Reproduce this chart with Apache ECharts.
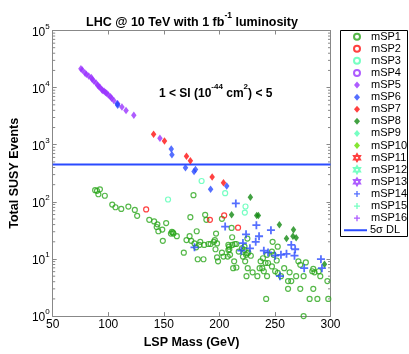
<!DOCTYPE html>
<html><head><meta charset="utf-8">
<script src="https://cdn.jsdelivr.net/npm/echarts@6/dist/echarts.min.js"></script>
<style>html,body{margin:0;padding:0;background:#fff}#c{width:409px;height:354px}</style>
</head><body><div id="c"></div>
<script>
const xTicks = [50, 100, 150, 200, 250, 300];
const yDecades = [1, 10, 100, 1000, 10000, 100000];
const dlLevel = 450;

const mSP1 = [[88.2,160],[89.9,156],[92.5,166],[91.1,136],[96.9,128],[103.6,89.5],[106.5,80.4],[111.7,75.2],[118.1,82.6],[123.9,72.3],[126,56.9],[136.9,48.5],[141.3,45.5],[144.2,40.5],[143.6,36.3],[145.1,30.6],[148.6,32.7],[152.1,42.6],[156.4,27.9],[158.2,29],[149.1,20.8],
[176.7,131],[173.9,54],[187.2,59.2],[188.3,48.5],[202.3,50.5],[211,34.9],[157.3,29.8],[158.7,27.9],[161.7,25.1],[179.6,30.6],[197,27.9],
[173.2,25.1],[170.4,21.4],[174.7,20.8],[177.6,18.7],[179.1,16],[182,17.6],[182.8,20],[186.3,17.6],[190.1,18.3],[192.1,18.3],[195,20],[195.9,21.4],[197.9,18.7],[196.5,14.8],[168,12.9],[180.5,9.9],[185.7,9.9],[197.9,10.7],[198.8,9.1],
[202.3,12.9],[203.7,11],[207.5,11],[209.6,11.8],[208.7,16.4],[208.1,14.4],[215.3,18.3],[217.4,13.5],[220.3,15.4],[222.6,14.4],[224.9,12.6],[221.2,11],[213.3,9.1],[212.4,6.9],[215.3,7.1],[223.2,9.1],[225.5,6.9],[224.4,5],
[211.5,24],[213.9,18.3],[209,14.8],[208.1,17.6],[211.7,17.6],
[225.2,22.8],[222.6,16.4],[226,12.9],[224,11.8],[228.3,11.4],[229.9,5.85],[234.2,5],[236.2,6.9],[238.6,6.9],[237.1,9.1],[239.2,10.3],[242.9,11.8],[241.5,8.5],[243.8,8.5],[240,6.1],[242.9,5],[247.3,13.5],[247.9,20],[248.8,11.8],[252.5,16.4],[251.6,9.4],[247.3,7.4],[250.2,6.1],[252.5,5.7],[258.3,6.9],[255.4,5],[261.8,4.1],[264.7,4.1],[261.8,3.0],[263.2,5.85],[269.1,5],[271.1,9.1],[272.8,7.9],[277.8,8.7],[275.8,5],[272.8,3.0],[284.5,6.7],[285.6,5.85],[283.6,6.1],[284.5,3.0],[289.4,6.1],[290.8,5],[297.2,4.1],[298,2.0],[281.2,2.0],[288.2,2.0],[242.1,2.0],[275.8,1.0]];
const mSP2 = [[134.1,73.8],[191.5,48.5],[204.3,57.8],[216.8,35.3]];
const mSP3 = [[153.8,110],[184,232],[205.2,142],[223.5,83],[222.9,65]];
const mSP4 = [];
const mSP5 = [[75.4,21400],[76.6,20300],[79,18000],[80.3,17100],[82.4,16000],[84.7,15000],[85.5,14000],[87,13000],[89,12000],[90.5,11000],[91.5,10500],[92.5,10100],[94.2,9200],[95,8900],[96.3,8600],[97.5,8200],[98.6,7950],[100.1,7430],[102,6900],[103,6510],[105,5920],[108.5,5200],[112.3,4560],[116,3980],[123,3270],[146.5,1295]];
const mSP6 = [[108,5200],[108.5,4900],[156.7,840],[157.3,670],[169.5,395],[177.2,340],[178.5,370],[192.1,166],[206.6,190]];
const mSP7 = [[140.8,1520],[150.6,1160],[170.4,626],[173.9,525],[193.5,272],[203.7,217]];
const mSP8 = [[211,59.3],[227.9,120],[233.6,57.8],[235.1,57.8],[254,39.8],[266.7,32.6],[260.4,22.8],[266.2,25],[269.1,23.5],[294.6,8.1]];
const mSP9 = [], mSP10 = [], mSP11 = [], mSP12 = [], mSP13 = [];
const mSP14 = [[214.8,94],[205.2,37],[233.3,39],[224,27],[235.7,25],[246.4,32],[221.2,19],[232.7,20],[219.7,14],[227.5,15.4],[240,14],[243.8,13],[250.2,11.4],[255.4,11.8],[260.4,12.3],[264.7,17.6],[268.2,14.8],[267.6,11.4],[276.3,6.9],[254.5,5.0],[291.4,9.9],[292.3,6.9],[177.6,16]];
const mSP15 = [], mSP16 = [];

const FONT = 'Liberation Sans, Arial, Helvetica, sans-serif';
const GREEN = '#2aa61c', RED = '#ff1010', AQUA = '#55ffb4', PURPLE = '#9a33ff', BLUE = '#2a4bff', DKGREEN = '#138a13', LTGREEN = '#66e000';
const HEX = 'path://M0,-1L0.2887,-0.5L0.866,-0.5L0.577,0L0.866,0.5L0.2887,0.5L0,1L-0.2887,0.5L-0.866,0.5L-0.577,0L-0.866,-0.5L-0.2887,-0.5Z';
const PLUS = 'path://M3.5,0h2v3.5h3.5v2h-3.5v3.5h-2v-3.5h-3.5v-2h3.5z';

function openC(name, data, color) {
  return {name, type:'scatter', data, symbol:'circle', symbolSize:5,
    itemStyle:{color:'rgba(255,255,255,0)', borderColor:color, borderWidth:1.2}};
}
function dia(name, data, color) {
  return {name, type:'scatter', data, symbol:'diamond', symbolSize:[5.5,7.5], itemStyle:{color}};
}
function hexS(name, data, color) {
  return {name, type:'scatter', data, symbol:HEX, symbolSize:7,
    itemStyle:{color:'rgba(255,255,255,0)', borderColor:color, borderWidth:1}};
}
function plus(name, data, color) {
  return {name, type:'scatter', data, symbol:PLUS, symbolSize:8, itemStyle:{color}};
}

const minorVals = [];
yDecades.slice(0, -1).forEach(d => { for (let k = 2; k <= 9; k++) minorVals.push([50, d * k]); });

const supFmt = v => '{b|10}{s|' + Math.round(Math.log10(v)) + '}';
const yRich = {b:{fontSize:12, fontFamily:FONT, color:'#000', lineHeight:16, verticalAlign:'bottom'},
               s:{fontSize:8, fontFamily:FONT, color:'#000', verticalAlign:'top'}};

const seriesNames = ['mSP1','mSP2','mSP3','mSP4','mSP5','mSP6','mSP7','mSP8','mSP9','mSP10','mSP11','mSP12','mSP13','mSP14','mSP15','mSP16'];
const dlName = '5σ DL';

const legendText = {fontSize:11, fontFamily:FONT, color:'#000', lineHeight:12.1};

const chart = echarts.init(document.getElementById('c'), null, {renderer:'canvas'});
chart.setOption({
  animation:false,
  backgroundColor:'#fff',
  title:{
    text:'{t|LHC @ 10 TeV with 1 fb}{s|-1}{t| luminosity}',
    left:187, top:6, textAlign:'center',
    textStyle:{rich:{t:{fontSize:12.5, fontWeight:'bold', fontFamily:FONT, color:'#000', lineHeight:18, verticalAlign:'bottom'},
                     s:{fontSize:8.5, fontWeight:'bold', fontFamily:FONT, color:'#000', verticalAlign:'top'}}}
  },
  graphic:[{
    type:'text', left:159, top:83,
    style:{text:'{t|1 < SI (10}{s|-44}{t| cm}{s|2}{t|) < 5}',
      rich:{t:{fontSize:12, fontWeight:'bold', fontFamily:FONT, fill:'#000', lineHeight:17, verticalAlign:'bottom'},
            s:{fontSize:8, fontWeight:'bold', fontFamily:FONT, fill:'#000', verticalAlign:'top'}}}
  },{
    type:'rect', left:340, top:30, z:0,
    shape:{x:0, y:0, width:67, height:206},
    style:{fill:'#fff', stroke:'#000', lineWidth:1}
  }],
  legend:[{
    data:seriesNames, orient:'vertical', left:353, top:30.6,
    padding:0, itemWidth:6, itemHeight:7, itemGap:0,
    textStyle:Object.assign({}, legendText, {padding:[0,0,0,6]}), z:10
  },{
    data:[{name:dlName, icon:'rect'}], orient:'vertical', left:344, top:224.2,
    padding:0, itemWidth:23, itemHeight:2, itemGap:0,
    textStyle:Object.assign({}, legendText, {padding:[0,0,0,-2]}), z:10
  }],
  grid:{left:43.5, right:78.5, top:30.5, bottom:33.5, containLabel:false},
  xAxis:[{
    type:'value', min:50, max:300, interval:50, position:'bottom',
    name:'LSP Mass (GeV)', nameLocation:'middle', nameGap:17,
    nameTextStyle:{fontSize:12.5, fontWeight:'bold', fontFamily:FONT, color:'#000'},
    axisLine:{show:true, lineStyle:{color:'#888', width:1}},
    axisTick:{show:true, inside:true, length:4, lineStyle:{color:'#888'}},
    axisLabel:{fontSize:12, fontFamily:FONT, color:'#000', margin:3},
    splitLine:{show:false}
  },{
    type:'value', min:50, max:300, interval:50, position:'top',
    axisLine:{show:true, lineStyle:{color:'#888', width:1}},
    axisTick:{show:true, inside:true, length:4, lineStyle:{color:'#888'}},
    axisLabel:{show:false}, splitLine:{show:false}
  }],
  yAxis:[{
    type:'log', logBase:10, min:1, max:100000, position:'left',
    name:'Total SUSY Events', nameLocation:'middle', nameGap:23,
    nameTextStyle:{fontSize:12.5, fontWeight:'bold', fontFamily:FONT, color:'#000'},
    axisLine:{show:true, lineStyle:{color:'#888', width:1}},
    axisTick:{show:true, inside:true, length:4, lineStyle:{color:'#888'}},
    axisLabel:{formatter:supFmt, rich:yRich, margin:3},
    splitLine:{show:false}
  },{
    type:'log', logBase:10, min:1, max:100000, position:'right',
    axisLine:{show:true, lineStyle:{color:'#888', width:1}},
    axisTick:{show:true, inside:true, length:4, lineStyle:{color:'#888'}},
    axisLabel:{show:false}, splitLine:{show:false}
  }],
  series:[
    openC('mSP1', mSP1, GREEN),
    openC('mSP2', mSP2, RED),
    openC('mSP3', mSP3, AQUA),
    openC('mSP4', mSP4, PURPLE),
    dia('mSP5', mSP5, PURPLE),
    dia('mSP6', mSP6, BLUE),
    dia('mSP7', mSP7, RED),
    dia('mSP8', mSP8, DKGREEN),
    dia('mSP9', mSP9, AQUA),
    dia('mSP10', mSP10, LTGREEN),
    hexS('mSP11', mSP11, RED),
    hexS('mSP12', mSP12, AQUA),
    hexS('mSP13', mSP13, PURPLE),
    plus('mSP14', mSP14, BLUE),
    plus('mSP15', mSP15, AQUA),
    plus('mSP16', mSP16, PURPLE),
    {name:dlName, type:'line', symbol:'none', data:[[50, dlLevel],[300, dlLevel]],
     lineStyle:{color:BLUE, width:2}, itemStyle:{color:BLUE}, z:1},
    {type:'custom', silent:true, data:minorVals, clip:false, z:5,
     renderItem:(params, api) => {
       const p = api.coord([api.value(0), api.value(1)]);
       const cs = params.coordSys;
       return {type:'group', children:[
         {type:'line', shape:{x1:cs.x, y1:p[1], x2:cs.x + 2.5, y2:p[1]}, style:{stroke:'#888', lineWidth:1}},
         {type:'line', shape:{x1:cs.x + cs.width - 2.5, y1:p[1], x2:cs.x + cs.width, y2:p[1]}, style:{stroke:'#888', lineWidth:1}}
       ]};
     }}
  ]
});
</script></body></html>
